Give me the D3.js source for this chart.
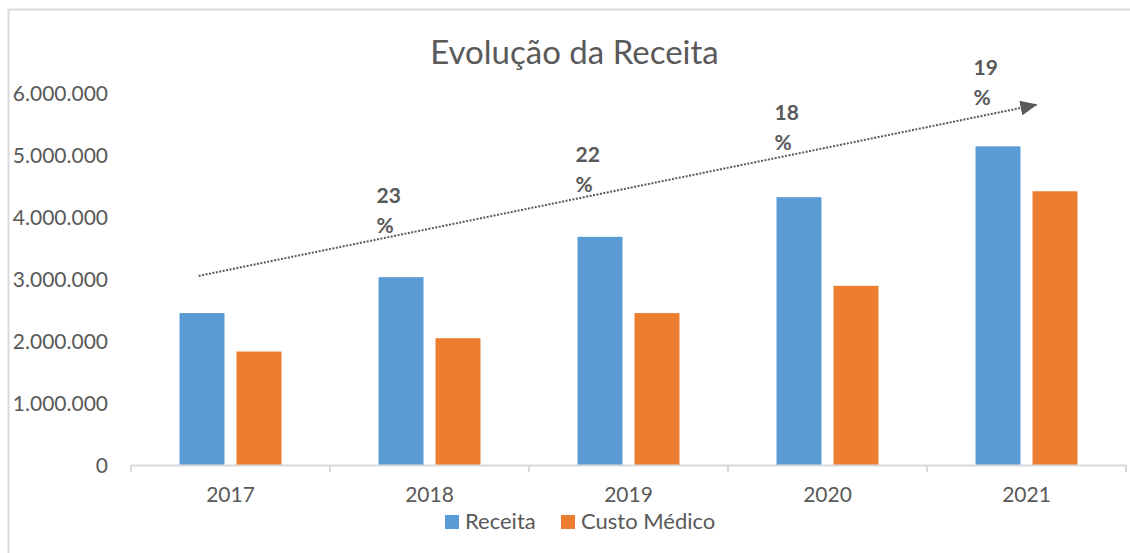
<!DOCTYPE html>
<html>
<head>
<meta charset="utf-8">
<script src="https://cdn.jsdelivr.net/npm/d3@7"></script>
<style>
  html, body { margin: 0; padding: 0; background: #fff; }
  svg { display: block; font-family: Lato, 'Open Sans', sans-serif; }
</style>
</head>
<body>
<svg id="chart"></svg>
<script>
// Data
const years = ['2017', '2018', '2019', '2020', '2021'];
const seriesNames = ['Receita', 'Custo Médico'];
const receita = [2450000, 3030000, 3680000, 4320000, 5140000];
const custoMedico = [1830000, 2045000, 2450000, 2890000, 4415000];
const yTicks = [0, 1000000, 2000000, 3000000, 4000000, 5000000, 6000000];
const growthLabels = ['23', '22', '18', '19'];
const growthYears = ['2018', '2019', '2020', '2021'];
const growthLevels = [4230000, 4890000, 5560000, 6290000];
// trend arrow ends: [year, fraction of band, value]
const trendStart = ['2017', 0.34, 3050000];
const trendEnd = ['2021', 0.55, 5810000];

const W = 1130, H = 553;
const colors = { 'Receita': '#5b9bd5', 'Custo Médico': '#ed7d31' };
const textColor = '#595959';

const svg = d3.select('#chart').attr('width', W).attr('height', H);

// outer chart border
svg.append('rect')
    .attr('x', 8.5).attr('y', 9.5)
    .attr('width', W + 10).attr('height', H + 10)
    .attr('fill', '#fff').attr('stroke', '#d9d9d9').attr('stroke-width', 2);

const plot = { left: 131, right: 1126, top: 93, bottom: 465 };

const x = d3.scaleBand().domain(years).range([plot.left, plot.right]);
const xs = d3.scaleBand().domain(seriesNames).range([0, x.bandwidth()])
    .paddingInner(0.2105).paddingOuter(0.851);
const y = d3.scaleLinear().domain([0, 6000000]).range([plot.bottom, plot.top]);

// Title
svg.append('text')
    .attr('x', 574.5).attr('y', 64)
    .attr('text-anchor', 'middle')
    .attr('font-size', '33px')
    .attr('fill', textColor)
    .text('Evolução da Receita');

// Y labels
const fmt = d => d3.format(',.0f')(d).replace(/,/g, '.');
svg.append('g')
    .selectAll('text')
    .data(yTicks)
    .enter()
    .append('text')
    .attr('x', 108)
    .attr('y', d => y(d) + 7.5)
    .attr('text-anchor', 'end')
    .attr('font-size', '21px')
    .attr('fill', textColor)
    .text(fmt);

// Bars
const data = years.map((yr, i) => ({ year: yr, values: [
    { name: 'Receita', value: receita[i] },
    { name: 'Custo Médico', value: custoMedico[i] }
] }));

const groups = svg.append('g').selectAll('g')
    .data(data)
    .enter()
    .append('g')
    .attr('transform', d => `translate(${x(d.year)},0)`);

groups.selectAll('rect')
    .data(d => d.values)
    .enter()
    .append('rect')
    .attr('x', d => xs(d.name))
    .attr('y', d => y(d.value))
    .attr('width', xs.bandwidth())
    .attr('height', d => y(0) - y(d.value))
    .attr('fill', d => colors[d.name]);

// X axis
const xAxis = svg.append('g')
    .attr('transform', `translate(0,${plot.bottom})`);
xAxis.append('line')
    .attr('x1', plot.left).attr('x2', plot.right)
    .attr('y1', 0.5).attr('y2', 0.5)
    .attr('stroke', '#d9d9d9').attr('stroke-width', 2);
xAxis.selectAll('.tick')
    .data(years.concat(['end']))
    .enter()
    .append('line')
    .attr('x1', (d, i) => i < years.length ? x(d) : plot.right)
    .attr('x2', (d, i) => i < years.length ? x(d) : plot.right)
    .attr('y1', 0).attr('y2', 7)
    .attr('stroke', '#d9d9d9').attr('stroke-width', 2);
xAxis.selectAll('.lbl')
    .data(years)
    .enter()
    .append('text')
    .attr('x', d => x(d) + x.bandwidth() / 2)
    .attr('y', 37)
    .attr('text-anchor', 'middle')
    .attr('font-size', '21px')
    .attr('fill', textColor)
    .text(d => d);

// Trend arrow
svg.append('defs').append('marker')
    .attr('id', 'arrow')
    .attr('viewBox', '0 0 17 15')
    .attr('refX', 16).attr('refY', 7.5)
    .attr('markerWidth', 17).attr('markerHeight', 15)
    .attr('markerUnits', 'userSpaceOnUse')
    .attr('orient', 'auto')
    .append('path')
    .attr('d', 'M0,0 L17,7.5 L0,15 Z')
    .attr('fill', textColor);

svg.append('line')
    .attr('x1', x(trendStart[0]) + x.bandwidth() * trendStart[1])
    .attr('y1', y(trendStart[2]))
    .attr('x2', x(trendEnd[0]) + x.bandwidth() * trendEnd[1])
    .attr('y2', y(trendEnd[2]))
    .attr('stroke', textColor)
    .attr('stroke-width', 2)
    .attr('stroke-dasharray', '2,1.5')
    .attr('marker-end', 'url(#arrow)');

// Growth labels
const gl = svg.append('g').selectAll('text')
    .data(growthLabels)
    .enter()
    .append('text')
    .attr('x', (d, i) => x(growthYears[i]) + xs('Receita') - 2)
    .attr('y', (d, i) => y(growthLevels[i]))
    .attr('font-size', '21px')
    .attr('font-weight', 'bold')
    .attr('fill', textColor);
gl.append('tspan').text(d => d);
gl.append('tspan')
    .attr('x', (d, i) => x(growthYears[i]) + xs('Receita') - 2)
    .attr('dy', 30)
    .text('%');

// Legend
const legend = svg.append('g');
const legendItems = [
    { name: 'Receita', x: 445 },
    { name: 'Custo Médico', x: 561 }
];
legendItems.forEach(item => {
    legend.append('rect')
        .attr('x', item.x).attr('y', 515)
        .attr('width', 14).attr('height', 14)
        .attr('fill', colors[item.name]);
    legend.append('text')
        .attr('x', item.x + 20).attr('y', 529)
        .attr('font-size', '22px')
        .attr('fill', textColor)
        .text(item.name);
});
</script>
</body>
</html>
